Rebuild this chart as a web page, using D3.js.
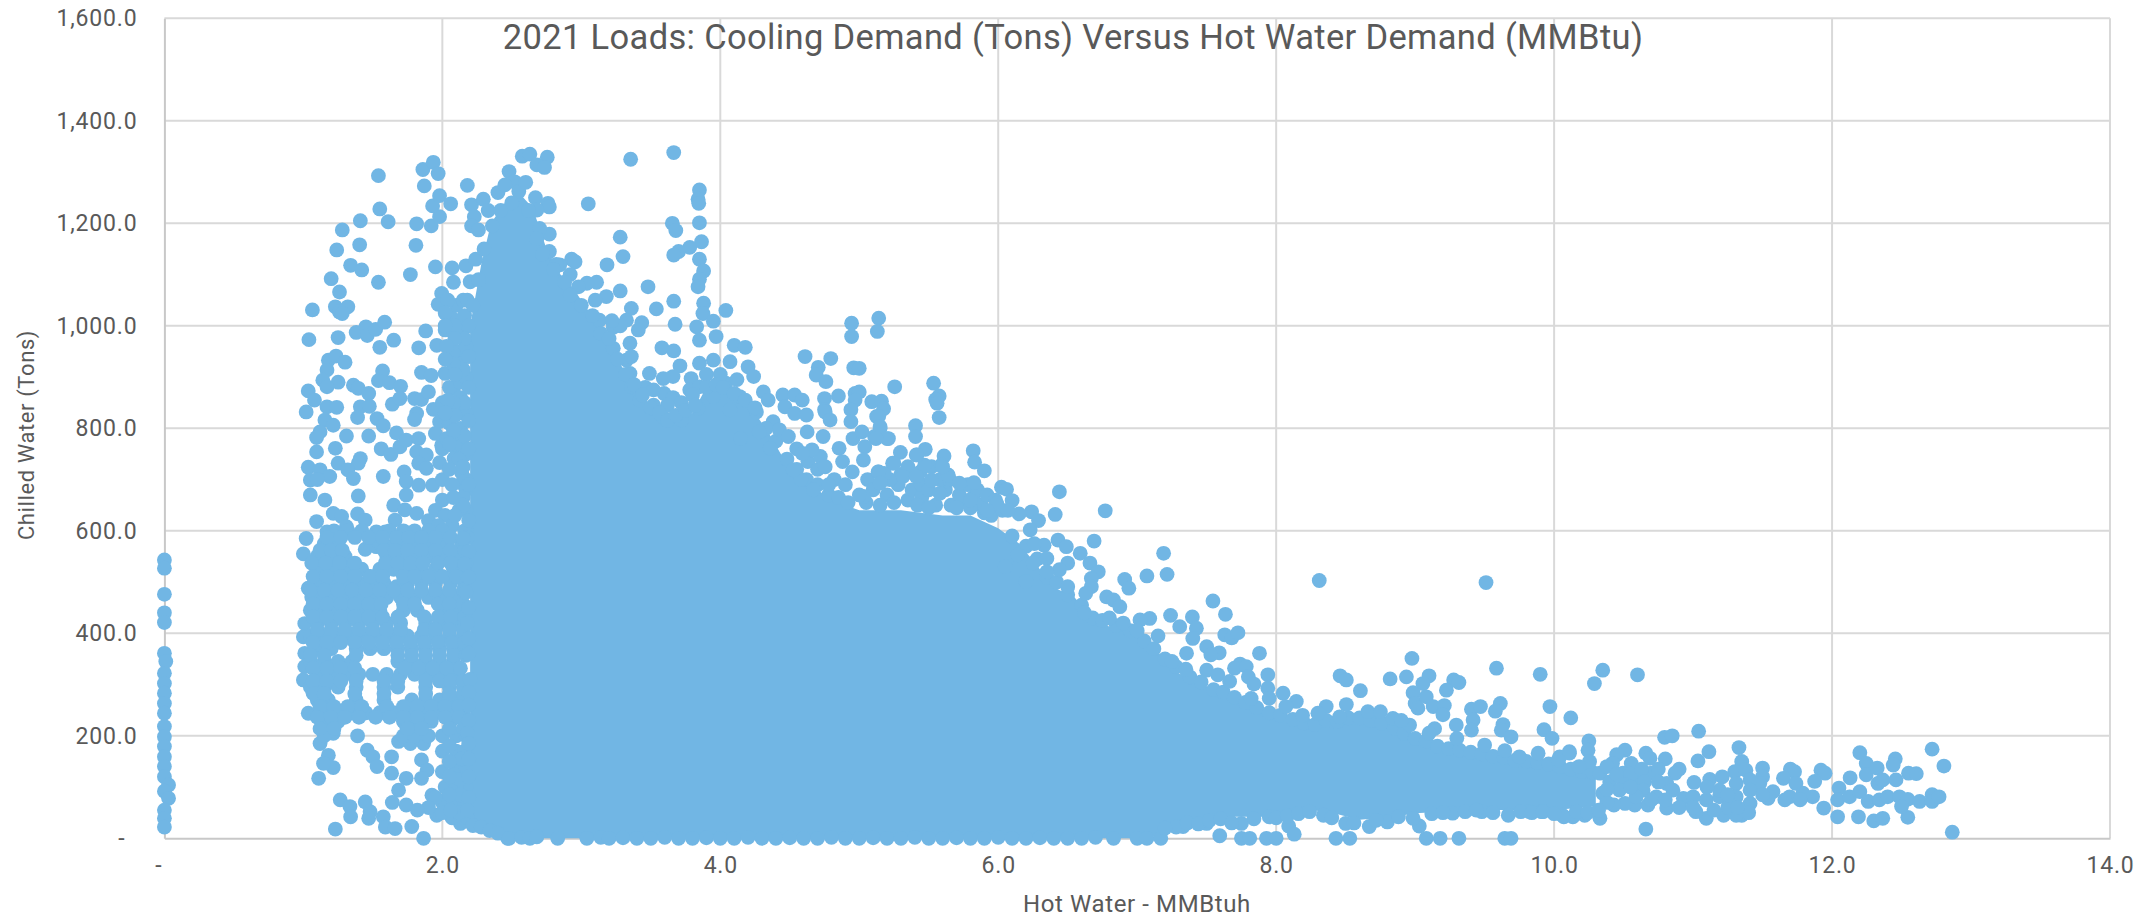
<!DOCTYPE html>
<html><head><meta charset="utf-8">
<script src="https://cdnjs.cloudflare.com/ajax/libs/d3/7.8.5/d3.min.js"></script>
<style>html,body{margin:0;padding:0;background:#fff}svg{display:block}text{font-family:Roboto,sans-serif}</style>
</head><body><svg id="c" width="2151" height="918"></svg>
<script>
const chartTitle = "2021 Loads: Cooling Demand (Tons) Versus Hot Water Demand (MMBtu)";
const xTitle = "Hot Water - MMBtuh";
const yTitle = "Chilled Water (Tons)";
const xTicks = [0,2,4,6,8,10,12,14];
const yTicks = [0,200,400,600,800,1000,1200,1400,1600];

// Solid body of the cloud, where individual markers can no longer be told apart: [hot water, chilled top, chilled bottom]
const denseBody = [[2.2,1000,30],[2.28,1120,28],[2.35,1200,22],[2.45,1240,5],[2.55,1260,0],[2.65,1230,0],[2.75,1150,0],[2.85,1100,0],[2.95,1070,0],[3.05,1030,0],[3.2,960,0],[3.35,895,0],[3.45,860,0],[3.55,825,0],[3.7,815,0],[3.8,830,0],[3.9,880,0],[4.0,880,0],[4.2,850,0],[4.35,790,0],[4.5,720,0],[4.65,690,0],[4.8,660,0],[5.0,640,0],[5.3,640,0],[5.6,630,0],[5.8,630,0],[6.0,605,0],[6.15,575,0],[6.3,525,0],[6.4,490,0],[6.55,470,0],[6.7,420,0],[7.0,400,0],[7.2,350,5],[7.3,322,29],[7.5,296,36],[7.7,276,42],[7.9,250,42],[8.1,231,45],[8.25,218,55],[8.4,224,50],[8.6,231,36],[8.85,218,42],[9.0,192,49],[9.2,179,52],[9.5,166,55],[9.7,153,55],[10.0,146,55],[10.3,130,62]];

const zeroStrip = [[0,543],[0,527],[0,476],[0,440],[0,421],[0,361],[0.01,345],[0,322],[0,302],[0,283],[0,263],[0,244],[0,218],[0,198],[0,179],[0,159],[0,140],[0,120],[0.03,104],[0,92],[0.03,78],[0,55],[0,39],[0,22]];

const leftUpper = [[1.54,1293],[1.86,1305],[1.935,1319],[1.97,1297],[1.87,1273],[2.18,1274],[1.55,1228],[1.41,1205],[1.61,1203],[1.28,1187],[1.405,1158],[1.24,1148],[1.34,1118],[1.42,1109],[1.2,1092],[1.54,1085],[1.77,1100],[1.81,1157],[1.815,1199],[1.92,1195],[1.98,1213],[1.93,1234],[1.98,1254],[2.06,1238],[2.21,1236],[2.295,1247],[2.23,1213],[2.21,1195],[2.26,1187],[1.95,1115],[2.07,1113],[2.17,1117],[2.08,1085],[2.2,1086],[2.24,1130],[1.26,1066],[1.065,1031],[1.23,1037],[1.26,1027],[1.32,1037],[1.28,1024],[1.04,973],[1.25,977],[1.38,987],[1.45,998],[1.46,981],[1.52,993],[1.585,1007],[1.65,972],[1.55,958],[1.83,957],[1.88,990],[1.96,962],[2.02,992],[1.995,1063],[1.97,1042],[1.18,933],[1.235,941],[1.3,929],[1.17,914],[1.14,894],[1.57,912],[1.54,893],[1.62,889],[1.7,882],[1.85,909],[1.92,903],[2.02,907],[2.08,878],[1.25,890],[1.36,884],[1.17,881],[1.035,873],[1.08,855],[1.02,832],[1.17,842],[1.24,841],[1.395,878],[1.47,868],[1.41,842],[1.475,843],[1.39,821],[1.53,819],[1.575,805],[1.64,847],[1.695,858],[1.8,858],[1.85,856],[1.9,871],[1.815,829],[1.8,817],[1.935,837],[1.98,813],[1.155,816],[1.12,793],[1.095,782],[1.215,806],[1.31,785],[1.47,785],[1.67,791],[1.56,760],[1.63,749],[1.695,764],[1.74,777],[1.83,780],[1.815,754],[1.885,748],[1.83,732],[1.885,722],[1.98,733],[1.995,767],[2.085,764],[2.085,741],[1.095,754],[1.23,761],[1.25,732],[1.41,741],[1.395,732],[1.035,724],[1.12,719],[1.05,699],[1.19,706],[1.32,719],[1.36,702],[1.575,706],[1.725,715],[1.74,696],[1.83,689],[1.93,689],[2.14,713],[2.14,693],[1.1,700],[2.0,700],[2.05,840],[2.05,810],[2.0,850],[2.05,880],[2.13,1010],[2.13,985],[2.13,950],[2.13,925],[2.13,890],[2.13,860],[2.13,830],[2.13,800],[2.13,770],[2.1,1040],[2.07,1015],[2.08,950],[2.15,1050],[2.16,1020],[2.17,900],[2.17,750],[2.17,680],[2.17,640],[2.17,600],[2.04,1050],[2.02,1025],[1.95,640],[2.0,660],[2.02,630],[2.12,640],[2.15,665],[1.9,620],[1.97,610],[2.07,610],[1.65,650],[2.17,700],[2.12,740],[2.05,720],[2.0,760],[1.95,790],[2.03,780],[2.1,790],[2.17,830],[2.17,960],[2.18,1050]];

const leftLower = [[1.05,670],[1.155,660],[1.395,668],[1.095,618],[1.215,634],[1.275,628],[1.39,633],[1.445,621],[1.525,598],[1.02,585],[1.0,555],[1.17,598],[1.31,608],[1.12,533],[1.24,556],[1.445,564],[1.66,621],[1.73,641],[1.74,670],[1.815,634],[1.59,598],[1.62,569],[1.635,543],[1.525,569],[1.395,523],[1.275,517],[1.035,488],[1.06,471],[1.18,491],[1.285,491],[1.48,510],[1.575,517],[1.71,527],[1.79,527],[1.67,491],[1.55,491],[1.41,484],[1.095,445],[1.01,419],[1.0,393],[1.01,361],[1.01,335],[1.0,309],[1.07,283],[1.035,244],[1.12,237],[1.155,211],[1.12,185],[1.215,205],[1.18,162],[1.215,138],[1.145,146],[1.11,117],[1.39,200],[1.46,172],[1.5,159],[1.53,140],[1.635,159],[1.635,127],[1.74,117],[1.685,94],[1.64,70],[1.74,65],[1.685,189],[1.745,215],[1.77,185],[1.85,153],[1.89,133],[1.85,117],[1.925,84],[1.865,185],[1.265,75],[1.335,62],[1.34,42],[1.445,71],[1.48,52],[1.47,39],[1.575,42],[1.59,22],[1.66,19],[1.78,23],[1.23,18],[1.865,0],[2.13,29],[1.96,45],[2.47,0]];

const leftRowLevels = [600,575,550,525,498,470,445,420,395,370,345,320,295,270,245,228,200];
const leftRowHotWater = [
 [1.22,1.32,1.42,1.62,1.72,1.8,1.9,2.0,2.16],
 [1.15,1.25,1.55,1.7,1.8,1.9,2.0,2.14],
 [1.1,1.2,1.3,1.6,1.7,1.8,1.9,2.0,2.1],
 [1.12,1.22,1.32,1.42,1.55,1.65,1.75,1.85,1.95,2.08,2.16],
 [1.1,1.2,1.3,1.4,1.5,1.58,1.75,1.85,1.95,2.06,2.16],
 [1.1,1.2,1.3,1.4,1.5,1.6,1.7,1.8,1.9,2.0,2.1],
 [1.05,1.15,1.25,1.35,1.45,1.55,1.72,1.82,2.0,2.1,2.17],
 [1.1,1.2,1.3,1.4,1.5,1.6,1.7,1.88,1.98,2.08,2.16],
 [1.05,1.15,1.25,1.35,1.45,1.55,1.65,1.75,1.85,1.95,2.05,2.15],
 [1.1,1.2,1.38,1.48,1.58,1.68,1.78,1.88,1.98,2.08,2.16],
 [1.05,1.15,1.25,1.35,1.68,1.78,1.88,1.98,2.08],
 [1.1,1.2,1.3,1.4,1.5,1.6,1.7,1.8,1.9,2.0,2.08],
 [1.05,1.15,1.25,1.38,1.58,1.68,1.88,2.05,2.15],
 [1.1,1.18,1.38,1.58,1.78,1.88,1.98,2.08,2.16],
 [1.15,1.25,1.35,1.45,1.55,1.65,1.75,1.85,1.95,2.05,2.15],
 [1.15,1.25,1.72,1.82,1.92,2.06,2.16],
 [1.15,1.72,1.8,1.9,2.0,2.1,2.17]
];
const leftBetweenLevels = [587,562,537,511,484,457,432,407,382,357,332,307,282,257,236,214];
const leftBetweenHotWater = [
 [1.17,1.27,1.37,1.47,1.57,1.67,1.76,1.85,1.95,2.06,2.18],
 [1.12,1.2,1.28,1.58,1.66,1.75,1.85,1.95,2.06,2.16],
 [1.06,1.16,1.26,1.37,1.59,1.68,1.77,1.86,1.97,2.06,2.17],
 [1.07,1.17,1.27,1.37,1.48,1.57,1.72,1.8,1.9,2.0,2.1,2.18],
 [1.05,1.15,1.25,1.35,1.45,1.55,1.65,1.75,1.85,1.95,2.05,2.15],
 [1.07,1.17,1.27,1.37,1.47,1.56,1.72,1.8,1.97,2.05,2.15],
 [1.07,1.17,1.27,1.37,1.47,1.57,1.68,1.87,1.97,2.06,2.16],
 [1.1,1.2,1.3,1.4,1.5,1.6,1.7,1.87,1.95,2.05,2.15],
 [1.07,1.17,1.27,1.37,1.47,1.57,1.67,1.77,1.87,1.97,2.07,2.16],
 [1.05,1.15,1.38,1.68,1.78,1.88,1.98,2.08,2.17],
 [1.07,1.17,1.27,1.37,1.73,1.83,1.93,2.03,2.13],
 [1.07,1.17,1.27,1.38,1.58,1.68,1.88,1.98,2.06,2.15],
 [1.08,1.15,1.37,1.58,1.88,2.05,2.15],
 [1.12,1.22,1.32,1.42,1.6,1.72,1.82,1.92,2.02,2.12],
 [1.1,1.2,1.3,1.4,1.52,1.62,1.72,1.82,1.92,2.02,2.12],
 [1.12,1.22,1.75,1.85,2.05,2.15]
];
const leftFoot = [[2.0,170],[2.1,170],[2.16,170],[2.0,130],[2.1,135],[2.17,140],[2.02,100],[2.1,100],[2.17,100],[2.0,70],[2.08,65],[2.16,65],[2.07,40],[2.18,40],[1.95,80],[1.9,60],[1.82,55],[2.0,50],[2.22,25],[2.28,22],[2.34,15],[2.4,10]];

const bodyLeftEdge = [[2.19,1000],[2.16,975],[2.19,940],[2.15,915],[2.19,880],[2.16,850],[2.19,815],[2.16,785],[2.19,760],[2.15,725],[2.19,690],[2.15,650],[2.19,620],[2.15,585],[2.19,560],[2.16,535],[2.19,510],[2.17,480],[2.19,450],[2.18,420],[2.19,390],[2.19,360],[2.2,310],[2.19,285],[2.19,260],[2.19,230],[2.18,205],[2.19,185],[2.14,155],[2.19,155],[2.13,115],[2.19,120],[2.13,85],[2.19,80],[2.12,50],[2.18,55],[2.09,1000],[2.09,975],[2.08,925],[2.09,905],[2.08,850],[2.09,825],[2.08,795],[2.05,770],[2.07,690],[2.08,665],[2.09,630],[2.05,180],[2.05,150],[2.05,120],[2.05,85],[2.06,55],[2.02,1000],[2.03,960],[2.02,935],[2.04,855],[2.02,830]];

const spikeFringe = [[2.575,1331],[2.63,1335],[2.755,1329],[2.68,1314],[2.735,1309],[2.48,1301],[2.52,1281],[3.355,1325],[3.665,1338],[3.85,1265],[3.84,1247],[3.845,1239],[3.05,1238],[2.67,1250],[2.76,1239],[2.77,1232],[2.68,1226],[3.85,1201],[3.655,1200],[3.68,1186],[3.28,1173],[2.77,1179],[3.3,1135],[2.77,1145],[3.865,1164],[3.78,1153],[3.7,1145],[3.665,1138],[3.85,1130],[3.88,1107],[3.85,1091],[3.84,1076],[3.185,1119],[2.93,1130],[2.955,1125],[2.845,1119],[3.11,1085],[3.04,1083],[2.98,1076],[3.48,1076],[3.28,1068],[3.18,1057],[3.665,1048],[3.54,1033],[3.36,1034],[4.04,1030],[3.88,1044],[3.875,1024],[3.325,1011],[3.435,1006],[3.41,992],[3.23,997],[3.13,1011],[3.675,1003],[3.83,998],[3.95,1009],[3.85,972],[3.97,979],[4.1,962],[4.18,958],[3.58,957],[3.665,951],[3.71,922],[3.66,901],[3.59,897],[3.49,907],[3.595,868],[3.79,897],[3.78,875],[3.85,927],[3.95,933],[4.07,930],[4.2,920],[4.24,901],[4.31,871],[4.345,855],[4.26,832],[4.45,865],[4.535,865],[4.59,855],[4.465,842],[4.535,829],[4.62,826],[3.59,821],[3.52,845],[3.72,816],[3.84,839],[3.42,855],[3.325,933],[3.35,907],[3.36,881],[3.23,956],[3.35,966],[3.36,940],[3.85,881],[4.04,888],[4.14,862],[3.95,862],[4.07,836],[4.38,813],[2.4,1260],[2.45,1275],[2.55,1262],[2.6,1280],[2.5,1240],[2.33,1225],[2.7,1190],[2.82,1120],[3.46,880],[3.52,875],[3.66,860],[3.72,850],[3.8,865],[3.62,845],[3.9,905],[4.0,905],[4.12,895],[3.28,1000],[3.22,1010],[3.1,1050],[2.92,1100]];

const bodyTopEdge = [[2.22,1040],[2.26,1090],[2.3,1150],[2.36,1195],[2.42,1225],[2.62,1225],[2.68,1170],[2.72,1140],[2.8,1110],[2.88,1085],[2.92,1060],[3.0,1040],[3.08,1020],[3.14,985],[3.2,975],[3.26,935],[3.32,905],[3.38,885],[3.44,865],[3.5,840],[3.56,830],[3.62,815],[3.68,825],[3.75,835],[3.82,845],[3.9,880],[3.97,885],[4.02,880],[4.1,868],[4.18,855],[4.25,840],[4.33,800],[4.4,775],[4.48,740],[4.55,720],[4.62,700],[4.7,690],[4.78,670],[4.85,665],[4.92,655],[6.1,590],[6.2,570],[6.28,545],[6.35,510],[6.42,500],[6.5,475],[6.6,455],[6.68,430],[6.75,425],[6.85,415],[6.95,405],[7.05,385],[7.12,370],[7.2,350],[7.28,335],[7.38,315],[7.46,305],[7.55,290],[7.62,285],[7.7,275],[7.78,265],[7.86,255],[7.95,245],[8.03,240],[8.12,232],[8.2,225],[8.28,222],[8.36,230],[8.44,228],[8.52,235],[8.6,235],[8.68,230],[8.76,225],[8.85,215],[8.92,205],[9.0,195],[9.08,190],[9.16,180],[9.24,175],[9.32,172],[9.4,168],[9.48,165],[9.56,160],[9.64,158],[9.72,152],[9.8,150],[9.88,148],[9.96,145],[10.04,140],[10.12,135],[10.2,130],[10.28,128]];

const bodyShoulder = [[4.55,760],[4.63,735],[4.7,720],[4.82,700],[4.9,690],[4.72,745],[4.95,715],[5.06,700],[5.1,680],[5.2,670],[5.28,690],[5.35,660],[5.38,680],[5.45,665],[5.55,650],[5.62,680],[5.66,650],[5.75,660],[5.82,665],[5.88,650],[5.95,630],[4.58,700],[4.67,680],[4.78,690],[5.3,710],[5.22,700],[5.45,690],[5.5,680],[5.58,700],[5.05,655],[5.15,650],[5.25,655],[5.65,700],[5.72,670],[5.78,690],[5.85,680],[5.92,670],[5.98,660],[6.03,640],[5.42,650],[5.5,645],[5.7,645],[5.8,645],[5.9,635],[5.35,725],[5.44,715],[5.52,725]];

const midFringe = [[4.61,940],[4.795,936],[4.96,918],[4.705,919],[4.69,904],[4.76,891],[4.945,1005],[4.945,979],[4.85,863],[4.75,858],[4.75,836],[4.97,868],[5.14,1015],[5.13,989],[5.0,917],[5.255,881],[5.535,888],[5.575,863],[5.55,856],[5.56,849],[5.575,821],[5.09,852],[5.16,853],[5.175,838],[5.0,871],[5.125,823],[5.405,805],[5.405,784],[5.15,800],[5.21,780],[5.11,784],[5.475,759],[5.296,753],[5.41,748],[5.82,756],[5.83,734],[5.61,746],[5.59,728],[5.9,717],[5.64,709],[5.47,728],[5.24,732],[5.135,715],[5.52,699],[5.72,693],[5.825,694],[6.023,685],[6.06,681],[6.1,659],[6.44,676],[6.41,632],[6.77,639],[6.24,637],[6.29,620],[6.15,633],[6.23,602],[6.43,582],[6.33,572],[6.26,575],[6.49,569],[6.69,580],[6.59,556],[7.19,556],[7.215,515],[7.07,512],[6.91,505],[6.94,488],[6.66,537],[6.72,520],[6.67,507],[6.67,491],[6.78,471],[6.83,465],[6.5,537],[6.44,524],[6.35,546],[6.25,537],[6.35,520],[6.2,501],[6.5,491],[6.63,478],[6.14,553],[6.05,530],[5.58,673],[5.8,660],[5.99,653],[6.07,640],[5.92,640],[5.03,667],[5.18,712],[5.315,706],[5.41,706],[4.97,855],[4.94,836],[4.755,832],[4.79,816],[4.94,813],[5.14,823],[5.15,803],[5.2,780],[5.12,780],[4.74,784],[4.855,761],[4.955,780],[5.02,793],[5.04,764],[5.03,738],[5.415,748],[5.25,732],[5.6,725],[5.14,715],[5.15,693],[4.28,793],[4.145,780],[4.425,797],[4.625,793],[4.66,758],[4.36,761],[4.49,784],[4.59,751],[4.755,725],[4.525,719],[5.0,670],[4.88,735],[7.24,435],[7.09,429],[7.02,426],[6.875,452],[7.0,405],[6.8,430],[7.15,395],[6.62,440],[6.9,420]];

const lowerRightFringe = [[7.545,463],[7.635,437],[7.397,432],[7.306,413],[7.426,410],[7.63,397],[7.68,391],[7.725,401],[7.4,390],[7.88,361],[7.5,374],[7.59,362],[7.53,358],[7.355,361],[7.74,340],[7.7,332],[7.785,335],[7.8,315],[7.84,301],[7.94,319],[7.94,293],[8.05,283],[8.145,267],[7.5,328],[7.58,319],[7.665,306],[7.82,273],[7.95,273],[8.07,257],[8.19,240],[8.31,503],[9.51,499],[9.9,320],[9.585,332],[9.97,257],[10.12,235],[8.977,351],[8.82,311],[8.937,315],[9.1,317],[8.46,317],[8.505,309],[8.606,288],[9.056,302],[8.985,284],[9.0,263],[9.08,276],[9.02,254],[9.13,257],[9.21,259],[9.2,241],[9.277,309],[9.315,304],[9.225,289],[9.405,252],[9.47,257],[9.613,263],[9.577,248],[9.417,231],[9.632,222],[9.62,211],[9.69,198],[9.927,212],[9.985,195],[9.14,214],[9.296,221],[9.405,211],[8.36,257],[8.3,244],[8.505,261],[8.66,247],[8.75,247],[8.457,237],[8.84,234],[8.96,221],[9.5,182],[9.645,171],[9.75,159],[9.885,166],[10.04,159],[10.11,169],[7.25,345],[7.35,330],[8.9,230],[9.1,205],[9.3,195]];

const tailUpper = [[10.35,328],[10.29,302],[10.6,319],[10.25,190],[10.244,172],[10.795,197],[10.85,200],[11.04,209],[11.114,169],[11.035,151],[11.33,177],[11.35,150],[10.8,155],[10.66,166],[10.69,156],[10.51,172],[10.45,163],[10.42,146],[10.555,146],[12.2,167],[12.246,146],[12.246,124],[12.325,137],[12.455,155],[12.44,143],[12.72,174],[12.805,141],[12.55,127],[12.606,126],[12.46,114],[12.33,107],[12.365,114],[12.13,118],[12.05,98],[11.92,133],[11.95,127],[11.875,111],[11.7,135],[11.73,130],[11.65,117],[11.74,107],[11.5,137],[11.5,120],[11.48,107],[11.3,130],[11.38,133],[11.41,114],[10.9,135],[10.87,127],[11.007,109],[11.12,115],[11.21,120],[11.31,107],[10.81,107],[10.7,127],[10.59,114],[10.495,127],[10.33,127],[10.255,150],[10.11,166],[10.03,153],[10.18,140],[10.66,18],[10.4,110],[10.38,140],[10.45,125],[10.55,125],[10.63,135],[10.75,135],[10.65,110],[10.5,105]];

const tailLower = [[12.04,42],[12.19,42],[12.3,34],[12.365,39],[12.545,41],[12.865,12],[11.94,59],[12.04,75],[12.126,81],[12.2,91],[12.26,72],[12.34,75],[12.4,81],[12.485,81],[12.545,76],[12.5,62],[12.63,72],[12.72,85],[12.72,72],[12.77,81],[11.86,81],[11.79,88],[11.695,81],[11.66,75],[11.77,75],[11.54,78],[11.575,91],[11.41,68],[11.35,45],[11.31,45],[11.22,45],[11.095,39],[11.02,52],[11.095,75],[11.19,81],[11.31,81],[10.93,78],[10.81,59],[10.675,65],[10.58,65],[10.51,68],[10.43,65],[10.33,39],[10.22,45],[10.135,42],[10.06,45],[9.91,52],[9.82,52],[10.35,88],[10.64,94],[10.735,81],[10.855,94],[11.0,81],[11.19,94],[11.41,94],[10.47,94],[10.59,81],[11.1,100],[11.25,60],[11.4,50],[10.9,60],[10.75,110],[10.55,100],[11.0,60],[11.15,55],[11.25,85],[11.32,60],[11.5,85],[10.7,75],[10.8,75],[10.38,70],[10.38,95]];

const bottomEdge = [[7.594,5],[7.75,0],[7.81,0],[7.93,0],[8.0,0],[8.09,24],[8.13,8],[8.43,0],[8.53,0],[9.08,0],[9.18,0],[9.315,0],[9.645,0],[9.69,0],[9.03,24],[7.33,23],[7.5,29],[7.75,29],[7.95,42],[8.5,29],[8.67,23],[8.8,32],[8.985,39],[10.07,42],[9.67,45],[9.48,52],[9.27,49],[8.34,45],[6.83,0],[7.0,0],[7.07,0],[7.17,0],[7.28,22],[2.48,0],[2.57,2],[2.63,0],[2.68,3],[2.83,0],[3.04,0],[3.14,2],[3.2,0],[3.3,1],[3.4,0],[3.5,0],[3.6,2],[3.7,0],[3.8,0],[3.9,1],[4.0,0],[4.1,0],[4.2,2],[4.3,0],[4.4,0],[4.5,1],[4.6,0],[4.7,0],[4.8,2],[4.9,0],[5.0,0],[5.1,1],[5.2,0],[5.3,0],[5.4,2],[5.5,0],[5.6,0],[5.7,1],[5.8,0],[5.9,0],[6.0,2],[6.1,0],[6.2,0],[6.3,1],[6.4,0],[6.5,0],[6.6,0],[6.7,2],[7.2,20],[7.36,30],[7.44,28],[7.52,35],[7.6,38],[7.68,30],[7.84,38],[8.0,40],[8.08,44],[8.16,48],[8.24,52],[8.4,40],[8.56,30],[8.72,35],[8.88,42],[9.12,48],[9.2,50],[9.36,52],[9.44,55],[9.56,50],[9.76,52],[9.84,50],[9.92,52],[10.0,48],[10.16,52],[10.24,50],[10.32,55]];

const leftRows = leftRowLevels.flatMap((chilled,i)=>leftRowHotWater[i].map(hot=>[hot,chilled]));
const leftBetween = leftBetweenLevels.flatMap((chilled,i)=>leftBetweenHotWater[i].map(hot=>[hot,chilled]));
const points = [...zeroStrip,...leftUpper,...leftLower,...leftRows,...leftBetween,...leftFoot,...bodyLeftEdge,...spikeFringe,...bodyTopEdge,...bodyShoulder,...midFringe,...lowerRightFringe,...tailUpper,...tailLower,...bottomEdge];

const markerColor = "#71b6e4", gridColor = "#d9d9d9", textColor = "#595959";
const svg = d3.select("#c");
const x = d3.scaleLinear().domain([0,14]).range([164.4,2110]);
const y = d3.scaleLinear().domain([0,1600]).range([838.3,18.3]);
const fmt = v => v===0 ? "-" : d3.format(",.1f")(v);

// gridlines
svg.append("g").selectAll("line").data(yTicks.slice(1)).join("line")
  .attr("x1",x(0)).attr("x2",x(14)).attr("y1",d=>y(d)).attr("y2",d=>y(d))
  .attr("stroke",gridColor).attr("stroke-width",2);
svg.append("g").selectAll("line").data(xTicks.slice(1)).join("line")
  .attr("y1",y(0)).attr("y2",y(1600)).attr("x1",d=>x(d)).attr("x2",d=>x(d))
  .attr("stroke",gridColor).attr("stroke-width",2);

// axes
const gx = svg.append("g").attr("transform",`translate(0,${y(0)})`)
  .call(d3.axisBottom(x).tickValues(xTicks).tickFormat(fmt).tickSize(0).tickPadding(18));
const gy = svg.append("g").attr("transform",`translate(${x(0)},0)`)
  .call(d3.axisLeft(y).tickValues(yTicks).tickFormat(fmt).tickSize(0).tickPadding(27));
[gx,gy].forEach(g=>{
  g.select(".domain").attr("stroke","#c8c8c8").attr("stroke-width",2);
  g.selectAll("text").attr("fill",textColor).style("font-size","23px").style("font-family","Roboto,sans-serif").attr("letter-spacing","0.8");
});
gx.selectAll("text").filter(d=>d===0).attr("dx",-6);
gy.selectAll("text").filter(d=>d===0).attr("dx",-12);

// dense body
const bodyArea = d3.area().x(d=>x(d[0])).y1(d=>y(d[1])).y0(d=>y(d[2]));
svg.append("path").datum(denseBody).attr("d",bodyArea).attr("fill",markerColor);

// markers
svg.append("g").selectAll("circle").data(points).join("circle")
  .attr("cx",d=>x(d[0])).attr("cy",d=>y(d[1])).attr("r",7.4).attr("fill",markerColor);

// titles
svg.append("text").attr("x",1073).attr("y",49).attr("text-anchor","middle")
  .attr("fill",textColor).style("font-size","34.5px").attr("letter-spacing","0.35").text(chartTitle);
svg.append("text").attr("x",1137).attr("y",912).attr("text-anchor","middle")
  .attr("fill",textColor).style("font-size","24px").attr("letter-spacing","0.6").text(xTitle);
svg.append("text").attr("transform","translate(34,435) rotate(-90)").attr("text-anchor","middle")
  .attr("fill",textColor).style("font-size","22px").attr("letter-spacing","0.6").text(yTitle);
</script></body></html>
